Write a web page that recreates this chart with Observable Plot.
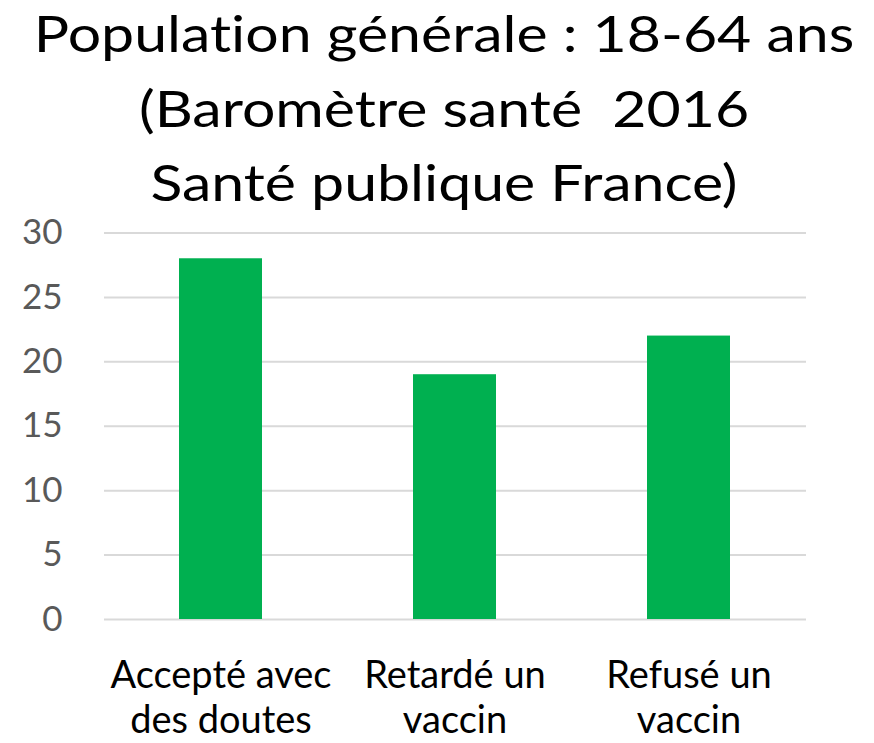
<!DOCTYPE html>
<html>
<head>
<meta charset="utf-8">
<script src="https://cdn.jsdelivr.net/npm/d3@7"></script>
<script src="https://cdn.jsdelivr.net/npm/@observablehq/plot@0.6"></script>
<style>
  html, body { margin: 0; padding: 0; background: #fff; }
  #wrap { width: 874px; height: 743px; position: relative; overflow: hidden; background: #fff; }
  #title { position: absolute; left: 7px; top: -3.6px; width: 874px; text-align: center; z-index: 2;
           font-family: Lato, sans-serif; font-size: 50px; line-height: 74.5px; color: #000;
           font-variant-ligatures: none; transform: scaleX(1.18); transform-origin: 50% 0; }
  #chart { position: absolute; left: 0; top: 200px; z-index: 1; }
  #chart svg { overflow: visible; }
</style>
</head>
<body>
<div id="wrap">
  <div id="title"></div>
  <div id="chart"></div>
</div>
<script>
const titleLines = ["Population générale : 18-64 ans", "(Baromètre santé  2016", "Santé publique France)"];
const categories = ["Accepté avec\ndes doutes", "Retardé un\nvaccin", "Refusé un\nvaccin"];
const values = [28, 19, 22];
const yTicks = [0, 5, 10, 15, 20, 25, 30];

const t = document.getElementById("title");
titleLines.forEach(s => { const d = document.createElement("div"); d.textContent = s; d.style.whiteSpace = "pre"; t.appendChild(d); });

const data = categories.map((c, i) => ({category: c, value: values[i]}));

const chart = Plot.plot({
  width: 874,
  height: 543,
  marginTop: 32.5,
  marginBottom: 124,
  marginLeft: 104,
  marginRight: 68,
  style: {fontFamily: "Lato, sans-serif", background: "transparent"},
  x: {domain: categories, paddingInner: 0.645, paddingOuter: 0.3225, label: null},
  y: {domain: [0, 30], label: null},
  marks: [
    Plot.ruleY(yTicks, {stroke: "#d9d9d9", strokeWidth: 2}),
    Plot.barY(data, {x: "category", y: "value", fill: "#00B050"}),
    Plot.axisY({ticks: yTicks, tickSize: 0, tickPadding: 42, fontSize: 35, color: "#595959", label: null}),
    Plot.axisX({tickSize: 0, tickPadding: 36, fontSize: 38, lineHeight: 1.2, color: "#000", label: null})
  ]
});
document.getElementById("chart").appendChild(chart);
</script>
</body>
</html>
